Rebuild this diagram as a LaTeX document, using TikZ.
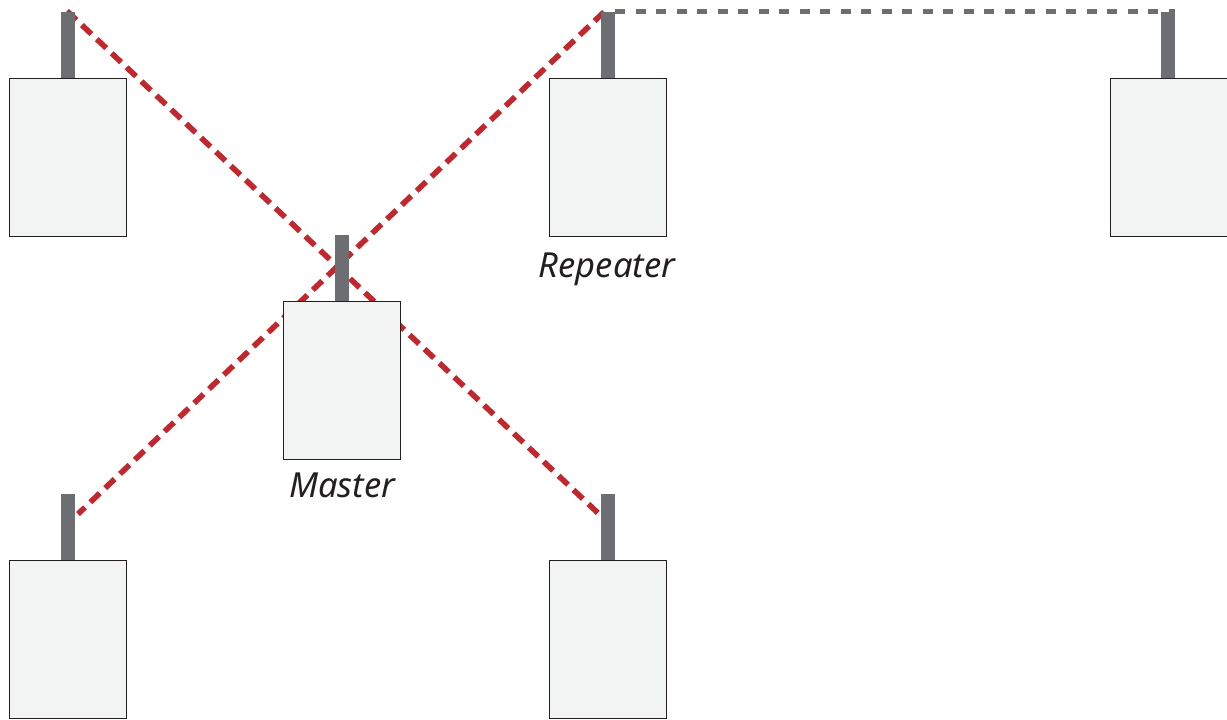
\documentclass[tikz,border=0pt]{standalone}
\usepackage{fontspec}
\setmainfont{Noto Sans}
\definecolor{linkred}{HTML}{C1272D}
\definecolor{antgrey}{HTML}{6D6E71}
\definecolor{boxfill}{HTML}{F2F4F3}
\definecolor{boxline}{HTML}{231F20}
\begin{document}
\begin{tikzpicture}[x=1pt,y=-1pt,
  unit/.style={draw=boxline,fill=boxfill,line width=1.2pt,rectangle,minimum width=117pt,minimum height=158pt,inner sep=0pt,anchor=north west},
  antenna/.style={fill=antgrey,draw=none,rectangle,minimum width=14pt,minimum height=66pt,inner sep=0pt,anchor=north west},
  redlink/.style={draw=linkred,line width=5.6pt,dash pattern=on 13pt off 7.5pt},
  greylink/.style={draw=antgrey,line width=5.4pt,dash pattern=on 10pt off 10.5pt},
  lbl/.style={font=\fontsize{34.5}{40}\selectfont\itshape,text=boxline,inner sep=0pt}]
\useasboundingbox (0,0) rectangle (1227,720);
% coordinates for link ends
\coordinate (l1s) at (67,11);
\coordinate (l1e) at (599,514);
\coordinate (l2s) at (604,12);
\coordinate (l2e) at (78,514);
\draw[redlink] (l1s) -- (l1e);
\draw[redlink] (l2s) -- (l2e);
% units
\node[unit] (u1) at (9,78) {};
\node[antenna] (a1) at (61,12) {};
\node[unit] (m) at (283,301) {};
\node[antenna] (am) at (335,235) {};
\node[unit] (r) at (549,78) {};
\node[antenna] (ar) at (601,12) {};
\node[unit] (u4) at (1110,78) {};
\node[antenna] (a4) at (1161,12) {};
\node[unit] (u5) at (9,560) {};
\node[antenna] (a5) at (61,494) {};
\node[unit] (u6) at (549,560) {};
\node[antenna] (a6) at (601,494) {};
\draw[greylink] ([yshift=0.5pt]ar.north east) -- ([yshift=0.5pt]a4.north east);
\node[lbl,anchor=base] (rl) at (607,277) {Repeater};
\node[lbl,anchor=base] (ml) at (342,497) {Master};
\end{tikzpicture}
\end{document}
